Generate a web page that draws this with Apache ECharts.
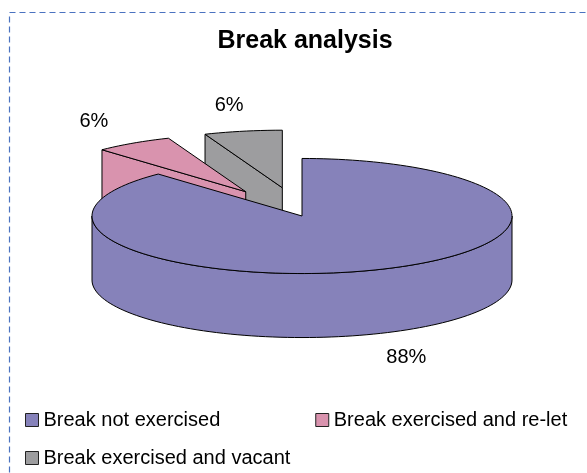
<!DOCTYPE html>
<html>
<head>
<meta charset="utf-8">
<title>Break analysis</title>
<script src="https://cdn.jsdelivr.net/npm/echarts@6/dist/echarts.min.js"></script>
<style>
    html, body { margin: 0; padding: 0; background: #fff; }
    #break_chart { width: 587px; height: 473px; }
</style>
</head>
<body>
<div id="break_chart"></div>
<script>
'use strict';

// Data
const categories = ['Break not exercised', 'Break exercised and re-let', 'Break exercised and vacant'];
const shares = [88, 6, 6];

// Styles
const sliceColors = ['#8682ba', '#d993ae', '#9d9d9f'];
const explodeBy = [0, 0.5, 0.5];   // share of the radius

const FONT = 'Arial, "Liberation Sans", sans-serif';
const TILT = 0.274;    // ry / rx of the top face
const DEPTH = 64;      // pie thickness in px
const LABEL_RX = 1.35;
const LABEL_RY = 1.45;

const total = shares.reduce((s, v) => s + v, 0);

// one custom series per slice, back slices drawn first
const buildSlices = function () {
    let acc = 0;
    const slices = shares.map((v, i) => {
        const start = acc;
        acc += v;
        const f = (start + acc) / 2 / total;
        return { index: i, start: start, end: acc, depth: -Math.cos(2 * Math.PI * f) };
    });
    const order = slices.slice().sort((a, b) => a.depth - b.depth);
    order.forEach((s, rank) => { s.rank = rank; });
    return slices;
};

const renderSlice = function (params, api) {
    const a0 = api.value(0);
    const a1 = api.value(1);
    const i = api.value(2);
    const c = api.coord([0, 0]);
    const rim = function (a) {
        const p = api.coord([1, a]);
        return [p[0] - c[0], (p[1] - c[1]) * TILT];
    };
    const m = rim((a0 + a1) / 2);
    const ox = c[0] + m[0] * explodeBy[i];
    const oy = c[1] + m[1] * explodeBy[i];
    const top = function (a) {
        const v = rim(a);
        return [ox + v[0], oy + v[1]];
    };
    const down = p => [p[0], p[1] + DEPTH];
    const arc = function (from, to) {
        const n = Math.max(2, Math.ceil(Math.abs(to - from) / total * 180));
        const pts = [];
        for (let k = 0; k <= n; k++) pts.push(top(from + (to - from) * k / n));
        return pts;
    };
    const faceStyle = { fill: sliceColors[i], stroke: '#000', lineWidth: 1, lineJoin: 'round' };
    const children = [];

    // radial cut faces that look towards the viewer
    const addCut = function (a) {
        const r = top(a);
        children.push({
            type: 'polygon',
            shape: { points: [[ox, oy], r, down(r), [ox, oy + DEPTH]] },
            style: faceStyle
        });
    };
    if (rim(a0)[0] < -0.5) addCut(a0);
    if (rim(a1)[0] > 0.5) addCut(a1);

    // front wall
    const lo = Math.max(a0, total * 0.25);
    const hi = Math.min(a1, total * 0.75);
    if (lo < hi) {
        const upper = arc(lo, hi);
        const lower = upper.map(down).reverse();
        children.push({
            type: 'polygon',
            shape: { points: upper.concat(lower) },
            style: faceStyle
        });
    }

    // top face
    children.push({
        type: 'polygon',
        shape: { points: [[ox, oy]].concat(arc(a0, a1)) },
        style: faceStyle
    });

    // label
    const lx = ox + m[0] * LABEL_RX;
    const ly = oy + m[1] * LABEL_RY + (m[1] > 0 ? DEPTH : 0);
    children.push({
        type: 'text',
        style: {
            text: Math.round(shares[i] / total * 100) + '%',
            x: lx,
            y: ly,
            fill: '#000',
            font: '20px ' + FONT,
            align: 'center',
            verticalAlign: 'middle'
        }
    });

    return { type: 'group', children: children };
};

const breakChart = function () {
    const el = document.getElementById('break_chart');
    if (!el || typeof echarts == 'undefined') return;

    const chart = echarts.init(el);
    const slices = buildSlices();

    chart.setOption({
        animation: false,
        title: {
            text: 'Break analysis',
            left: 305,
            top: 29,
            padding: 0,
            textAlign: 'center',
            textStyle: {
                fontFamily: FONT,
                fontSize: 25,
                fontWeight: 'bold',
                color: '#000'
            }
        },
        legend: [
            {
                data: [categories[0], categories[1]],
                left: 25,
                top: 410,
                padding: 0,
                itemGap: 95,
                itemWidth: 13,
                itemHeight: 13,
                icon: 'rect',
                selectedMode: false,
                itemStyle: { borderColor: '#222', borderWidth: 1 },
                textStyle: { fontFamily: FONT, fontSize: 20, color: '#000' }
            },
            {
                data: [categories[2]],
                left: 25,
                top: 448,
                padding: 0,
                itemWidth: 13,
                itemHeight: 13,
                icon: 'rect',
                selectedMode: false,
                itemStyle: { borderColor: '#222', borderWidth: 1 },
                textStyle: { fontFamily: FONT, fontSize: 20, color: '#000' }
            }
        ],
        polar: {
            center: [302, 216],
            radius: 210
        },
        angleAxis: {
            type: 'value',
            min: 0,
            max: total,
            startAngle: 90,
            clockwise: true,
            show: false
        },
        radiusAxis: {
            type: 'value',
            min: 0,
            max: 1,
            show: false
        },
        graphic: [
            {
                type: 'rect',
                silent: true,
                shape: { x: 9.5, y: 12.5, width: 620, height: 500 },
                style: { fill: 'none', stroke: '#4a72c0', lineWidth: 1.2, lineDash: [6, 4] }
            }
        ],
        series: slices.map(s => ({
            type: 'custom',
            name: categories[s.index],
            coordinateSystem: 'polar',
            z: 2 + s.rank,
            silent: true,
            itemStyle: { color: sliceColors[s.index] },
            renderItem: renderSlice,
            data: [[s.start, s.end, s.index]]
        }))
    });
};

document.addEventListener('DOMContentLoaded', function () {
    breakChart();
});
</script>
</body>
</html>
